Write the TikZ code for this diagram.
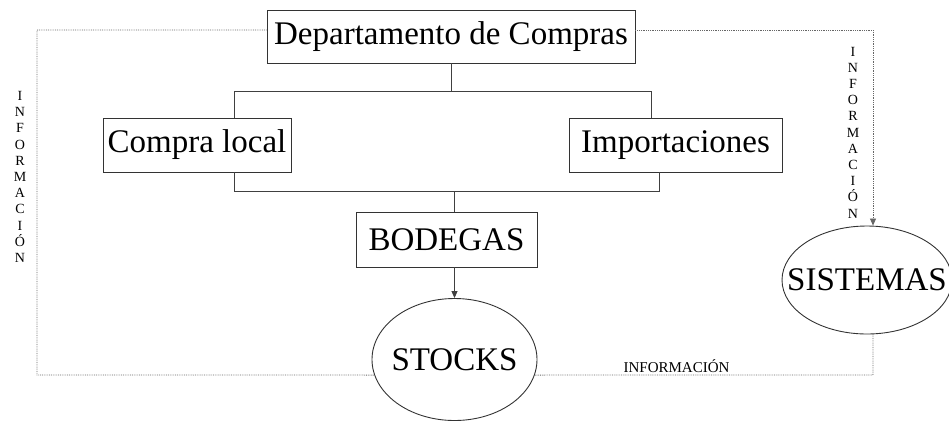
\documentclass[tikz,border=0pt]{standalone}
\usepackage{fontspec}
\setmainfont{Liberation Serif}
\usepackage{tikz}
\usetikzlibrary{shapes.geometric, arrows.meta, calc}

\begin{document}
\begin{tikzpicture}[x=1pt, y=-1pt,
  box/.style={draw=black!80, line width=0.9pt, inner sep=0pt, font=\fontsize{33}{36}\selectfont},
  elli/.style={ellipse, draw=black!80, line width=0.9pt, inner sep=0pt, font=\fontsize{33}{36}\selectfont},
  link/.style={draw=black!75, line width=1pt},
  info/.style={draw=black!60, densely dotted, line width=0.8pt},
  tip/.style={-{Triangle[length=7pt,width=6pt]}},
  vtext/.style={align=center, inner sep=0pt, font=\fontsize{14}{16.2}\selectfont}]
\useasboundingbox (0,0) rectangle (949,421);
% Boxes
\node[box, minimum width=368pt, minimum height=53pt] (dep) at (451,36.5) {Departamento de Compras};
\node[box, minimum width=188pt, minimum height=54pt] (cl) at (197,145) {Compra local};
\node[box, minimum width=213pt, minimum height=54pt] (imp) at (675.5,145) {Importaciones};
\node[box, minimum width=181pt, minimum height=55pt] (bod) at (446.5,239.5) {BODEGAS};
\node[elli, minimum width=165pt, minimum height=122pt] (stk) at (454.5,359.5) {\makebox[0pt]{STOCKS}};
\node[elli, minimum width=170pt, minimum height=108pt] (sis) at (867,280) {\makebox[0pt]{SISTEMAS}};
% Tree
\coordinate (b1l) at (234,91);
\coordinate (b1r) at (651,91);
\coordinate (b2l) at (234,191);
\coordinate (b2r) at (659,191);
\draw[link] (dep.south) -- (dep.south |- b1l);
\draw[link] (cl.north -| b1l) -- (b1l) -- (b1r) -- (imp.north -| b1r);
\draw[link] (cl.south -| b2l) -- (b2l) -- (b2r) -- (imp.south -| b2r);
\draw[link] (stk.north |- b2l) -- (stk.north |- bod.north);
\draw[link, tip] (stk.north |- bod.south) -- (stk.north);
% Information loop
\coordinate (tl) at (37,30);
\coordinate (tr) at (873,30);
\coordinate (bl) at (37,375);
\coordinate (br) at (873,375);
\draw[info] (dep.west |- tl) -- (tl) -- (bl) -- (stk.191);
\draw[info, tip] (dep.east |- tr) -- (tr) -- (tr |- sis.north);
\draw[info] (stk.349) -- (br) -- (br |- sis.south);
% Labels
\node[vtext] (infl) at (20,177) {I\\N\\F\\O\\R\\M\\A\\C\\I\\Ó\\N};
\node[vtext] (infr) at (853,132.5) {I\\N\\F\\O\\R\\M\\A\\C\\I\\Ó\\N};
\node[anchor=base, inner sep=0pt, font=\fontsize{15}{16}\selectfont] (infb) at (676.5,372) {INFORMACIÓN};
\end{tikzpicture}
\end{document}
